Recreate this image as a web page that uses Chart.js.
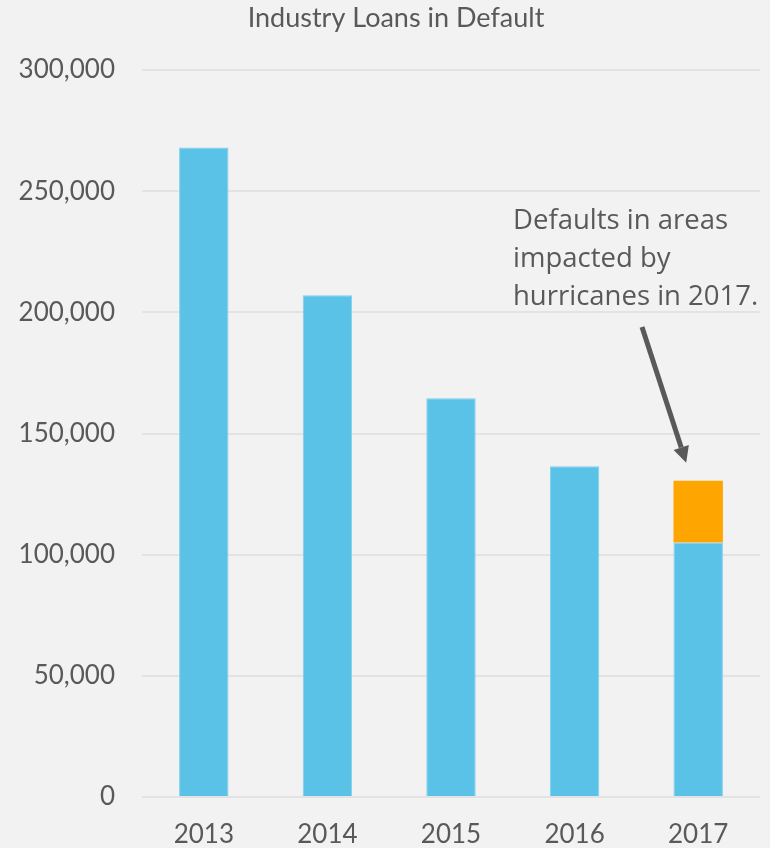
<!DOCTYPE html>
<html>
<head>
<meta charset="utf-8">
<script src="https://cdn.jsdelivr.net/npm/chart.js@4"></script>
<style>
  html, body { margin: 0; padding: 0; background: #f2f2f2; }
  #wrap { width: 770px; height: 848px; }
</style>
</head>
<body>
<div id="wrap"><canvas id="loansChart"></canvas></div>
<script>
const years = ["2013", "2014", "2015", "2016", "2017"];
const baseDefaults = [268000, 207000, 164500, 136500, 105000];
const hurricaneDefaults = [0, 0, 0, 0, 25500];
const yTicks = [0, 50000, 100000, 150000, 200000, 250000, 300000];
const chartTitle = "Industry Loans in Default";
const noteLines = ["Defaults in areas", "impacted by", "hurricanes in 2017."];

const grey = "#595959";
const font = "Lato, 'Open Sans', sans-serif";

// title sits a little left of the plot area's centre
const titlePlugin = {
  id: "plotTitle",
  afterDraw(chart) {
    const ctx = chart.ctx;
    const area = chart.chartArea;
    ctx.save();
    ctx.fillStyle = grey;
    ctx.font = "27px " + font;
    ctx.textAlign = "center";
    ctx.textBaseline = "middle";
    ctx.fillText(chartTitle, (area.left + area.right) / 2 - 55, 18);
    ctx.restore();
  }
};

// callout text + arrow pointing at the top of the 2017 stack
const calloutPlugin = {
  id: "callout",
  afterDatasetsDraw(chart) {
    const ctx = chart.ctx;
    const x = chart.scales.x;
    const y = chart.scales.y;
    ctx.save();
    ctx.fillStyle = grey;
    ctx.font = "27.5px 'Open Sans', sans-serif";
    ctx.textBaseline = "alphabetic";
    noteLines.forEach((line, i) => {
      ctx.fillText(line, 513, 229 + i * 38);
    });

    const last = years.length - 1;
    const tipX = x.getPixelForValue(last) - 12;
    const tipY = y.getPixelForValue(baseDefaults[last] + hurricaneDefaults[last]) - 18;
    const startX = 642, startY = 327;
    const ang = Math.atan2(tipY - startY, tipX - startX);
    const head = 16;
    const backX = tipX - head * Math.cos(ang);
    const backY = tipY - head * Math.sin(ang);
    ctx.strokeStyle = grey;
    ctx.lineWidth = 5;
    ctx.beginPath();
    ctx.moveTo(startX, startY);
    ctx.lineTo(backX, backY);
    ctx.stroke();
    ctx.beginPath();
    ctx.moveTo(tipX, tipY);
    ctx.lineTo(backX + 8 * Math.sin(ang), backY - 8 * Math.cos(ang));
    ctx.lineTo(backX - 8 * Math.sin(ang), backY + 8 * Math.cos(ang));
    ctx.closePath();
    ctx.fillStyle = grey;
    ctx.fill();
    ctx.restore();
  }
};

const bgPlugin = {
  id: "bg",
  beforeDraw(chart) {
    const ctx = chart.ctx;
    ctx.save();
    ctx.fillStyle = "#f2f2f2";
    ctx.fillRect(0, 0, chart.width, chart.height);
    ctx.restore();
  }
};

new Chart(document.getElementById("loansChart"), {
  type: "bar",
  data: {
    labels: years,
    datasets: [
      {
        label: "Loans in default",
        data: baseDefaults,
        backgroundColor: "#5bc2e7",
        borderColor: "#7fd0ee",
        borderWidth: 1,
        barPercentage: 0.4,
        categoryPercentage: 1,
      },
      {
        label: "Hurricane areas",
        data: hurricaneDefaults,
        backgroundColor: "#ffa500",
        barPercentage: 0.4,
        categoryPercentage: 1,
      },
    ],
  },
  options: {
    responsive: true,
    maintainAspectRatio: false,
    animation: false,
    layout: { padding: { left: 0, right: 10, top: 70, bottom: 0 } },
    plugins: {
      legend: { display: false },
      tooltip: { enabled: false },
      title: { display: false },
    },
    scales: {
      x: {
        stacked: true,
        afterFit(axis) {
          axis.height = 51;
        },
        grid: { display: false, drawTicks: false },
        border: { display: false },
        ticks: {
          color: grey,
          font: { family: font, size: 26 },
          padding: 22,
        },
      },
      y: {
        stacked: true,
        min: 0,
        max: 300000,
        afterBuildTicks(axis) {
          axis.ticks = yTicks.map((v) => ({ value: v }));
        },
        afterFit(axis) {
          axis.width = 142;
        },
        grid: { color: "#e3e3e3", lineWidth: 2, drawTicks: false },
        border: { display: false },
        ticks: {
          color: grey,
          font: { family: font, size: 26 },
          padding: 27,
          callback: (v) => v.toLocaleString("en-US"),
        },
      },
    },
  },
  plugins: [bgPlugin, titlePlugin, calloutPlugin],
});
</script>
</body>
</html>
